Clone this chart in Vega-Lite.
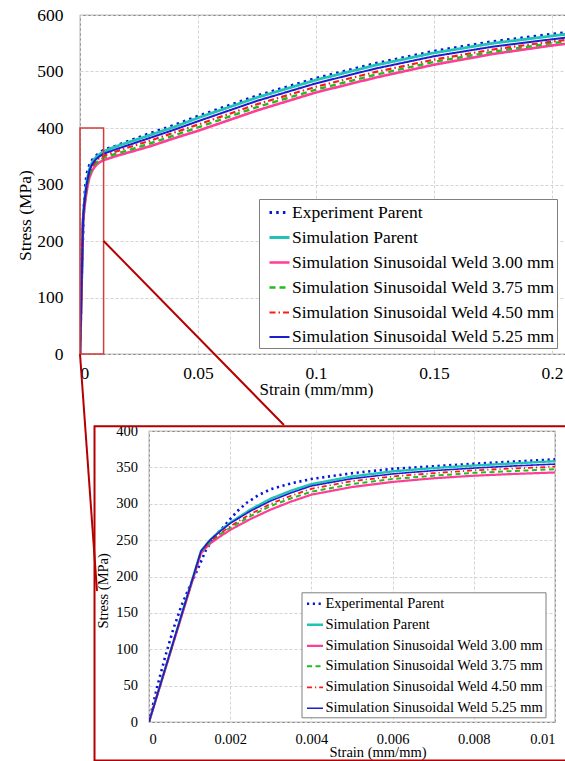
{
  "$schema": "https://vega.github.io/schema/vega-lite/v6.json",
  "padding": {"left": 15, "top": 5, "right": -2, "bottom": 0},
  "background": "white",
  "config": {
    "font": "Liberation Serif",
    "view": {"stroke": "#808080", "strokeWidth": 1.2},
    "axis": {"grid": true, "gridColor": "#d4d4d4", "gridDash": [3, 2], "gridWidth": 1, "ticks": false, "domain": false, "labelOverlap": false, "labelColor": "#000000", "titleColor": "#000000", "titleFontWeight": "normal", "labelFont": "Liberation Serif", "titleFont": "Liberation Serif"},
    "legend": {"labelFont": "Liberation Serif", "labelColor": "#000000", "symbolType": "stroke", "strokeColor": "#7f7f7f", "fillColor": "white", "cornerRadius": 0, "title": null, "labelLimit": 400}
  },
  "datasets": {
    "curves": [
      {"series": "Experiment Parent", "strain": 0, "stress": 0},
      {"series": "Experiment Parent", "strain": 0.0002, "stress": 48},
      {"series": "Experiment Parent", "strain": 0.0004, "stress": 90},
      {"series": "Experiment Parent", "strain": 0.0006, "stress": 128},
      {"series": "Experiment Parent", "strain": 0.0008, "stress": 160},
      {"series": "Experiment Parent", "strain": 0.001, "stress": 186},
      {"series": "Experiment Parent", "strain": 0.0012, "stress": 210},
      {"series": "Experiment Parent", "strain": 0.0014, "stress": 236},
      {"series": "Experiment Parent", "strain": 0.0016, "stress": 254},
      {"series": "Experiment Parent", "strain": 0.0018, "stress": 266},
      {"series": "Experiment Parent", "strain": 0.002, "stress": 279},
      {"series": "Experiment Parent", "strain": 0.0022, "stress": 291},
      {"series": "Experiment Parent", "strain": 0.0024, "stress": 301},
      {"series": "Experiment Parent", "strain": 0.0027, "stress": 312},
      {"series": "Experiment Parent", "strain": 0.003, "stress": 320},
      {"series": "Experiment Parent", "strain": 0.0035, "stress": 328},
      {"series": "Experiment Parent", "strain": 0.004, "stress": 334},
      {"series": "Experiment Parent", "strain": 0.005, "stress": 342},
      {"series": "Experiment Parent", "strain": 0.006, "stress": 348},
      {"series": "Experiment Parent", "strain": 0.007, "stress": 351.5},
      {"series": "Experiment Parent", "strain": 0.008, "stress": 355},
      {"series": "Experiment Parent", "strain": 0.009, "stress": 358},
      {"series": "Experiment Parent", "strain": 0.01, "stress": 361},
      {"series": "Experiment Parent", "strain": 0.015, "stress": 368},
      {"series": "Experiment Parent", "strain": 0.02, "stress": 376},
      {"series": "Experiment Parent", "strain": 0.03, "stress": 391},
      {"series": "Experiment Parent", "strain": 0.04, "stress": 405},
      {"series": "Experiment Parent", "strain": 0.05, "stress": 421},
      {"series": "Experiment Parent", "strain": 0.075, "stress": 457},
      {"series": "Experiment Parent", "strain": 0.1, "stress": 488},
      {"series": "Experiment Parent", "strain": 0.125, "stress": 514},
      {"series": "Experiment Parent", "strain": 0.15, "stress": 536},
      {"series": "Experiment Parent", "strain": 0.175, "stress": 553},
      {"series": "Experiment Parent", "strain": 0.2, "stress": 566},
      {"series": "Experiment Parent", "strain": 0.21, "stress": 571},

      {"series": "Simulation Parent", "strain": 0, "stress": 0},
      {"series": "Simulation Parent", "strain": 0.00128, "stress": 235},
      {"series": "Simulation Parent", "strain": 0.0015, "stress": 250},
      {"series": "Simulation Parent", "strain": 0.00175, "stress": 263},
      {"series": "Simulation Parent", "strain": 0.002, "stress": 274},
      {"series": "Simulation Parent", "strain": 0.0025, "stress": 292},
      {"series": "Simulation Parent", "strain": 0.003, "stress": 307},
      {"series": "Simulation Parent", "strain": 0.0035, "stress": 318},
      {"series": "Simulation Parent", "strain": 0.004, "stress": 327},
      {"series": "Simulation Parent", "strain": 0.005, "stress": 337.5},
      {"series": "Simulation Parent", "strain": 0.006, "stress": 344.5},
      {"series": "Simulation Parent", "strain": 0.007, "stress": 349},
      {"series": "Simulation Parent", "strain": 0.008, "stress": 352.5},
      {"series": "Simulation Parent", "strain": 0.009, "stress": 355.5},
      {"series": "Simulation Parent", "strain": 0.01, "stress": 358.5},
      {"series": "Simulation Parent", "strain": 0.015, "stress": 367},
      {"series": "Simulation Parent", "strain": 0.02, "stress": 374},
      {"series": "Simulation Parent", "strain": 0.03, "stress": 388},
      {"series": "Simulation Parent", "strain": 0.04, "stress": 402},
      {"series": "Simulation Parent", "strain": 0.05, "stress": 418},
      {"series": "Simulation Parent", "strain": 0.075, "stress": 454},
      {"series": "Simulation Parent", "strain": 0.1, "stress": 485},
      {"series": "Simulation Parent", "strain": 0.125, "stress": 511},
      {"series": "Simulation Parent", "strain": 0.15, "stress": 533},
      {"series": "Simulation Parent", "strain": 0.175, "stress": 550},
      {"series": "Simulation Parent", "strain": 0.2, "stress": 563},
      {"series": "Simulation Parent", "strain": 0.21, "stress": 568},

      {"series": "Simulation Sinusoidal Weld 3.00 mm", "strain": 0, "stress": 0},
      {"series": "Simulation Sinusoidal Weld 3.00 mm", "strain": 0.00128, "stress": 232},
      {"series": "Simulation Sinusoidal Weld 3.00 mm", "strain": 0.0015, "stress": 245},
      {"series": "Simulation Sinusoidal Weld 3.00 mm", "strain": 0.00175, "stress": 255},
      {"series": "Simulation Sinusoidal Weld 3.00 mm", "strain": 0.002, "stress": 264},
      {"series": "Simulation Sinusoidal Weld 3.00 mm", "strain": 0.0025, "stress": 279},
      {"series": "Simulation Sinusoidal Weld 3.00 mm", "strain": 0.003, "stress": 292},
      {"series": "Simulation Sinusoidal Weld 3.00 mm", "strain": 0.0035, "stress": 303},
      {"series": "Simulation Sinusoidal Weld 3.00 mm", "strain": 0.004, "stress": 312.5},
      {"series": "Simulation Sinusoidal Weld 3.00 mm", "strain": 0.005, "stress": 323},
      {"series": "Simulation Sinusoidal Weld 3.00 mm", "strain": 0.006, "stress": 330},
      {"series": "Simulation Sinusoidal Weld 3.00 mm", "strain": 0.007, "stress": 335},
      {"series": "Simulation Sinusoidal Weld 3.00 mm", "strain": 0.008, "stress": 338.5},
      {"series": "Simulation Sinusoidal Weld 3.00 mm", "strain": 0.009, "stress": 341},
      {"series": "Simulation Sinusoidal Weld 3.00 mm", "strain": 0.01, "stress": 343},
      {"series": "Simulation Sinusoidal Weld 3.00 mm", "strain": 0.015, "stress": 350},
      {"series": "Simulation Sinusoidal Weld 3.00 mm", "strain": 0.02, "stress": 356},
      {"series": "Simulation Sinusoidal Weld 3.00 mm", "strain": 0.03, "stress": 368},
      {"series": "Simulation Sinusoidal Weld 3.00 mm", "strain": 0.04, "stress": 382},
      {"series": "Simulation Sinusoidal Weld 3.00 mm", "strain": 0.05, "stress": 395},
      {"series": "Simulation Sinusoidal Weld 3.00 mm", "strain": 0.075, "stress": 431},
      {"series": "Simulation Sinusoidal Weld 3.00 mm", "strain": 0.1, "stress": 463},
      {"series": "Simulation Sinusoidal Weld 3.00 mm", "strain": 0.125, "stress": 489},
      {"series": "Simulation Sinusoidal Weld 3.00 mm", "strain": 0.15, "stress": 512},
      {"series": "Simulation Sinusoidal Weld 3.00 mm", "strain": 0.175, "stress": 531},
      {"series": "Simulation Sinusoidal Weld 3.00 mm", "strain": 0.2, "stress": 546},
      {"series": "Simulation Sinusoidal Weld 3.00 mm", "strain": 0.21, "stress": 551},

      {"series": "Simulation Sinusoidal Weld 3.75 mm", "strain": 0, "stress": 0},
      {"series": "Simulation Sinusoidal Weld 3.75 mm", "strain": 0.00128, "stress": 234},
      {"series": "Simulation Sinusoidal Weld 3.75 mm", "strain": 0.0015, "stress": 247},
      {"series": "Simulation Sinusoidal Weld 3.75 mm", "strain": 0.00175, "stress": 258},
      {"series": "Simulation Sinusoidal Weld 3.75 mm", "strain": 0.002, "stress": 267},
      {"series": "Simulation Sinusoidal Weld 3.75 mm", "strain": 0.0025, "stress": 283},
      {"series": "Simulation Sinusoidal Weld 3.75 mm", "strain": 0.003, "stress": 297},
      {"series": "Simulation Sinusoidal Weld 3.75 mm", "strain": 0.0035, "stress": 307.5},
      {"series": "Simulation Sinusoidal Weld 3.75 mm", "strain": 0.004, "stress": 316.5},
      {"series": "Simulation Sinusoidal Weld 3.75 mm", "strain": 0.005, "stress": 327},
      {"series": "Simulation Sinusoidal Weld 3.75 mm", "strain": 0.006, "stress": 334},
      {"series": "Simulation Sinusoidal Weld 3.75 mm", "strain": 0.007, "stress": 338.5},
      {"series": "Simulation Sinusoidal Weld 3.75 mm", "strain": 0.008, "stress": 342.5},
      {"series": "Simulation Sinusoidal Weld 3.75 mm", "strain": 0.009, "stress": 345},
      {"series": "Simulation Sinusoidal Weld 3.75 mm", "strain": 0.01, "stress": 347.5},
      {"series": "Simulation Sinusoidal Weld 3.75 mm", "strain": 0.015, "stress": 354},
      {"series": "Simulation Sinusoidal Weld 3.75 mm", "strain": 0.02, "stress": 360},
      {"series": "Simulation Sinusoidal Weld 3.75 mm", "strain": 0.03, "stress": 373},
      {"series": "Simulation Sinusoidal Weld 3.75 mm", "strain": 0.04, "stress": 387},
      {"series": "Simulation Sinusoidal Weld 3.75 mm", "strain": 0.05, "stress": 401},
      {"series": "Simulation Sinusoidal Weld 3.75 mm", "strain": 0.075, "stress": 437},
      {"series": "Simulation Sinusoidal Weld 3.75 mm", "strain": 0.1, "stress": 468},
      {"series": "Simulation Sinusoidal Weld 3.75 mm", "strain": 0.125, "stress": 494},
      {"series": "Simulation Sinusoidal Weld 3.75 mm", "strain": 0.15, "stress": 517},
      {"series": "Simulation Sinusoidal Weld 3.75 mm", "strain": 0.175, "stress": 535},
      {"series": "Simulation Sinusoidal Weld 3.75 mm", "strain": 0.2, "stress": 550},
      {"series": "Simulation Sinusoidal Weld 3.75 mm", "strain": 0.21, "stress": 555},

      {"series": "Simulation Sinusoidal Weld 4.50 mm", "strain": 0, "stress": 0},
      {"series": "Simulation Sinusoidal Weld 4.50 mm", "strain": 0.00128, "stress": 234},
      {"series": "Simulation Sinusoidal Weld 4.50 mm", "strain": 0.0015, "stress": 248},
      {"series": "Simulation Sinusoidal Weld 4.50 mm", "strain": 0.00175, "stress": 259},
      {"series": "Simulation Sinusoidal Weld 4.50 mm", "strain": 0.002, "stress": 269},
      {"series": "Simulation Sinusoidal Weld 4.50 mm", "strain": 0.0025, "stress": 286},
      {"series": "Simulation Sinusoidal Weld 4.50 mm", "strain": 0.003, "stress": 300},
      {"series": "Simulation Sinusoidal Weld 4.50 mm", "strain": 0.0035, "stress": 311},
      {"series": "Simulation Sinusoidal Weld 4.50 mm", "strain": 0.004, "stress": 320.5},
      {"series": "Simulation Sinusoidal Weld 4.50 mm", "strain": 0.005, "stress": 331},
      {"series": "Simulation Sinusoidal Weld 4.50 mm", "strain": 0.006, "stress": 337.5},
      {"series": "Simulation Sinusoidal Weld 4.50 mm", "strain": 0.007, "stress": 342},
      {"series": "Simulation Sinusoidal Weld 4.50 mm", "strain": 0.008, "stress": 346},
      {"series": "Simulation Sinusoidal Weld 4.50 mm", "strain": 0.009, "stress": 348.5},
      {"series": "Simulation Sinusoidal Weld 4.50 mm", "strain": 0.01, "stress": 351},
      {"series": "Simulation Sinusoidal Weld 4.50 mm", "strain": 0.015, "stress": 358},
      {"series": "Simulation Sinusoidal Weld 4.50 mm", "strain": 0.02, "stress": 365},
      {"series": "Simulation Sinusoidal Weld 4.50 mm", "strain": 0.03, "stress": 378},
      {"series": "Simulation Sinusoidal Weld 4.50 mm", "strain": 0.04, "stress": 392},
      {"series": "Simulation Sinusoidal Weld 4.50 mm", "strain": 0.05, "stress": 406},
      {"series": "Simulation Sinusoidal Weld 4.50 mm", "strain": 0.075, "stress": 442},
      {"series": "Simulation Sinusoidal Weld 4.50 mm", "strain": 0.1, "stress": 473},
      {"series": "Simulation Sinusoidal Weld 4.50 mm", "strain": 0.125, "stress": 499},
      {"series": "Simulation Sinusoidal Weld 4.50 mm", "strain": 0.15, "stress": 521},
      {"series": "Simulation Sinusoidal Weld 4.50 mm", "strain": 0.175, "stress": 539},
      {"series": "Simulation Sinusoidal Weld 4.50 mm", "strain": 0.2, "stress": 553},
      {"series": "Simulation Sinusoidal Weld 4.50 mm", "strain": 0.21, "stress": 558},

      {"series": "Simulation Sinusoidal Weld 5.25 mm", "strain": 0, "stress": 0},
      {"series": "Simulation Sinusoidal Weld 5.25 mm", "strain": 0.00128, "stress": 235},
      {"series": "Simulation Sinusoidal Weld 5.25 mm", "strain": 0.0015, "stress": 250},
      {"series": "Simulation Sinusoidal Weld 5.25 mm", "strain": 0.00175, "stress": 262},
      {"series": "Simulation Sinusoidal Weld 5.25 mm", "strain": 0.002, "stress": 273},
      {"series": "Simulation Sinusoidal Weld 5.25 mm", "strain": 0.0025, "stress": 290},
      {"series": "Simulation Sinusoidal Weld 5.25 mm", "strain": 0.003, "stress": 304},
      {"series": "Simulation Sinusoidal Weld 5.25 mm", "strain": 0.0035, "stress": 315},
      {"series": "Simulation Sinusoidal Weld 5.25 mm", "strain": 0.004, "stress": 324.5},
      {"series": "Simulation Sinusoidal Weld 5.25 mm", "strain": 0.005, "stress": 334.5},
      {"series": "Simulation Sinusoidal Weld 5.25 mm", "strain": 0.006, "stress": 341},
      {"series": "Simulation Sinusoidal Weld 5.25 mm", "strain": 0.007, "stress": 345.5},
      {"series": "Simulation Sinusoidal Weld 5.25 mm", "strain": 0.008, "stress": 349},
      {"series": "Simulation Sinusoidal Weld 5.25 mm", "strain": 0.009, "stress": 352},
      {"series": "Simulation Sinusoidal Weld 5.25 mm", "strain": 0.01, "stress": 354.5},
      {"series": "Simulation Sinusoidal Weld 5.25 mm", "strain": 0.015, "stress": 362},
      {"series": "Simulation Sinusoidal Weld 5.25 mm", "strain": 0.02, "stress": 369},
      {"series": "Simulation Sinusoidal Weld 5.25 mm", "strain": 0.03, "stress": 383},
      {"series": "Simulation Sinusoidal Weld 5.25 mm", "strain": 0.04, "stress": 397},
      {"series": "Simulation Sinusoidal Weld 5.25 mm", "strain": 0.05, "stress": 412},
      {"series": "Simulation Sinusoidal Weld 5.25 mm", "strain": 0.075, "stress": 448},
      {"series": "Simulation Sinusoidal Weld 5.25 mm", "strain": 0.1, "stress": 479},
      {"series": "Simulation Sinusoidal Weld 5.25 mm", "strain": 0.125, "stress": 505},
      {"series": "Simulation Sinusoidal Weld 5.25 mm", "strain": 0.15, "stress": 527},
      {"series": "Simulation Sinusoidal Weld 5.25 mm", "strain": 0.175, "stress": 544},
      {"series": "Simulation Sinusoidal Weld 5.25 mm", "strain": 0.2, "stress": 557},
      {"series": "Simulation Sinusoidal Weld 5.25 mm", "strain": 0.21, "stress": 562}
    ]
  },
  "bounds": "flush",
  "spacing": 77,
  "resolve": {
    "scale": {"x": "independent", "y": "independent", "color": "independent", "strokeDash": "independent", "strokeWidth": "independent"},
    "legend": {"color": "independent", "strokeDash": "independent"}
  },
  "vconcat": [
    {
      "width": 487,
      "height": 339,
      "layer": [
        {
          "data": {"name": "curves"},
          "mark": {"type": "line", "clip": true},
          "encoding": {
            "x": {"field": "strain", "type": "quantitative", "scale": {"domain": [0, 0.20636], "nice": false, "zero": false},
                  "axis": {"values": [0, 0.05, 0.1, 0.15, 0.2], "tickCount": 20, "labelOverlap": false, "format": "~g", "labelFontSize": 17.5, "labelPadding": 10, "title": "Strain (mm/mm)", "titleFontSize": 17, "titleX": 236, "titleY": 35, "titleBaseline": "middle"}},
            "y": {"field": "stress", "type": "quantitative", "scale": {"domain": [0, 600], "nice": false, "zero": false},
                  "axis": {"values": [0, 100, 200, 300, 400, 500, 600], "tickCount": 20, "labelOverlap": false, "labelFontSize": 17.5, "labelPadding": 17, "title": "Stress (MPa)", "titleFontSize": 17.5, "titleX": -55, "titleY": 200, "titleBaseline": "middle"}},
            "color": {"field": "series", "type": "nominal",
                      "scale": {"domain": ["Experiment Parent", "Simulation Parent", "Simulation Sinusoidal Weld 3.00 mm", "Simulation Sinusoidal Weld 3.75 mm", "Simulation Sinusoidal Weld 4.50 mm", "Simulation Sinusoidal Weld 5.25 mm"],
                                "range": ["#0a14d8", "#1fc4b4", "#ff3c96", "#22bb22", "#ff1a1a", "#1c1cd0"]},
                      "legend": {"orient": "none", "legendX": 179, "legendY": 184, "padding": 2, "symbolSize": 400, "symbolStrokeWidth": 2, "symbolOffset": 7, "labelOffset": 1, "rowPadding": 5, "labelFontSize": 17.5}},
            "strokeDash": {"field": "series", "type": "nominal",
                      "scale": {"domain": ["Experiment Parent", "Simulation Parent", "Simulation Sinusoidal Weld 3.00 mm", "Simulation Sinusoidal Weld 3.75 mm", "Simulation Sinusoidal Weld 4.50 mm", "Simulation Sinusoidal Weld 5.25 mm"],
                                "range": [[2.5, 4.2], [1, 0], [1, 0], [6, 4], [6, 3, 1.5, 3], [1, 0]]},
                      "legend": {"orient": "none", "legendX": 179, "legendY": 184, "padding": 2, "symbolSize": 400, "symbolStrokeWidth": 2, "symbolOffset": 7, "labelOffset": 1, "rowPadding": 5, "labelFontSize": 17.5}},
            "strokeWidth": {"field": "series", "type": "nominal",
                      "scale": {"domain": ["Experiment Parent", "Simulation Parent", "Simulation Sinusoidal Weld 3.00 mm", "Simulation Sinusoidal Weld 3.75 mm", "Simulation Sinusoidal Weld 4.50 mm", "Simulation Sinusoidal Weld 5.25 mm"],
                                "range": [3, 2, 2, 2.2, 1.8, 2]}, "legend": null}
          }
        },
        {
          "data": {"values": [{"strain": 0, "strain2": 0.01, "stress": 0, "stress2": 400}]},
          "mark": {"type": "rect", "fillOpacity": 0, "stroke": "#d23c3c", "strokeWidth": 1.5},
          "encoding": {
            "x": {"field": "strain", "type": "quantitative", "axis": {"values": [0, 0.05, 0.1, 0.15, 0.2], "tickCount": 20, "labelOverlap": false, "format": "~g", "labelFontSize": 17.5, "labelPadding": 10, "title": "Strain (mm/mm)", "titleFontSize": 17, "titleX": 236, "titleY": 35, "titleBaseline": "middle"}},
            "x2": {"field": "strain2"},
            "y": {"field": "stress", "type": "quantitative", "axis": {"values": [0, 100, 200, 300, 400, 500, 600], "tickCount": 20, "labelOverlap": false, "labelFontSize": 17.5, "labelPadding": 17, "title": "Stress (MPa)", "titleFontSize": 17.5, "titleX": -55, "titleY": 200, "titleBaseline": "middle"}},
            "y2": {"field": "stress2"}
          }
        },
        {
          "data": {"values": [
            {"strain": 0.01, "stress": 200, "strain2": 0.0864, "stress2": -125.7},
            {"strain": 0, "stress": 0, "strain2": 0.0072, "stress2": -419.5}
          ]},
          "mark": {"type": "rule", "stroke": "#b40000", "strokeWidth": 2},
          "encoding": {
            "x": {"field": "strain", "type": "quantitative", "axis": {"values": [0, 0.05, 0.1, 0.15, 0.2], "tickCount": 20, "labelOverlap": false, "format": "~g", "labelFontSize": 17.5, "labelPadding": 10, "title": "Strain (mm/mm)", "titleFontSize": 17, "titleX": 236, "titleY": 35, "titleBaseline": "middle"}},
            "x2": {"field": "strain2"},
            "y": {"field": "stress", "type": "quantitative", "axis": {"values": [0, 100, 200, 300, 400, 500, 600], "tickCount": 20, "labelOverlap": false, "labelFontSize": 17.5, "labelPadding": 17, "title": "Stress (MPa)", "titleFontSize": 17.5, "titleX": -55, "titleY": 200, "titleBaseline": "middle"}},
            "y2": {"field": "stress2"}
          }
        }
      ]
    },
    {
      "spacing": 0,
      "hconcat": [
        {
          "width": 12,
          "height": 10,
          "view": {"stroke": null},
          "data": {"values": [{"k": 1}]},
          "mark": {"type": "point", "opacity": 0}
        },
        {
          "width": 406,
          "height": 291,
          "layer": [
            {
              "data": {"name": "curves"},
              "mark": {"type": "line", "clip": true},
              "encoding": {
                "x": {"field": "strain", "type": "quantitative", "scale": {"domain": [0, 0.01], "nice": false, "zero": false},
                      "axis": {"values": [0, 0.002, 0.004, 0.006, 0.008, 0.01], "tickCount": 20, "labelOverlap": false, "format": "~g", "labelFontSize": 14.5, "labelPadding": 10, "title": "Strain (mm/mm)", "titleFontSize": 14.5, "titleX": 228.5, "titleY": 30, "titleBaseline": "middle"}},
                "y": {"field": "stress", "type": "quantitative", "scale": {"domain": [0, 400], "nice": false, "zero": false},
                      "axis": {"values": [0, 50, 100, 150, 200, 250, 300, 350, 400], "tickCount": 20, "labelOverlap": false, "labelFontSize": 14.5, "labelPadding": 11.5, "title": "Stress (MPa)", "titleFontSize": 14.5, "titleX": -46, "titleY": 159.3, "titleBaseline": "middle"}},
                "color": {"field": "series", "type": "nominal",
                          "scale": {"domain": ["Experiment Parent", "Simulation Parent", "Simulation Sinusoidal Weld 3.00 mm", "Simulation Sinusoidal Weld 3.75 mm", "Simulation Sinusoidal Weld 4.50 mm", "Simulation Sinusoidal Weld 5.25 mm"],
                                    "range": ["#0a14d8", "#1fc4b4", "#ff3c96", "#22bb22", "#ff1a1a", "#1c1cd0"]},
                          "legend": {"orient": "none", "legendX": 221.5, "legendY": 161.3, "padding": 2, "symbolSize": 256, "symbolStrokeWidth": 1.6, "symbolOffset": 2, "labelOffset": 1, "rowPadding": 5, "labelFontSize": 14.5, "labelExpr": "datum.label == 'Experiment Parent' ? 'Experimental Parent' : datum.label"}},
                "strokeDash": {"field": "series", "type": "nominal",
                          "scale": {"domain": ["Experiment Parent", "Simulation Parent", "Simulation Sinusoidal Weld 3.00 mm", "Simulation Sinusoidal Weld 3.75 mm", "Simulation Sinusoidal Weld 4.50 mm", "Simulation Sinusoidal Weld 5.25 mm"],
                                    "range": [[2.2, 3.6], [1, 0], [1, 0], [5, 3.5], [5, 3, 1.2, 3], [1, 0]]},
                          "legend": {"orient": "none", "legendX": 221.5, "legendY": 161.3, "padding": 2, "symbolSize": 256, "symbolStrokeWidth": 1.6, "symbolOffset": 2, "labelOffset": 1, "rowPadding": 5, "labelFontSize": 14.5, "labelExpr": "datum.label == 'Experiment Parent' ? 'Experimental Parent' : datum.label"}},
                "strokeWidth": {"field": "series", "type": "nominal",
                          "scale": {"domain": ["Experiment Parent", "Simulation Parent", "Simulation Sinusoidal Weld 3.00 mm", "Simulation Sinusoidal Weld 3.75 mm", "Simulation Sinusoidal Weld 4.50 mm", "Simulation Sinusoidal Weld 5.25 mm"],
                                    "range": [2.6, 1.6, 1.6, 1.8, 1.6, 1.6]}, "legend": null}
              }
            },
            {
              "data": {"values": [{"strain": -0.001342, "strain2": 0.0103, "stress": -53, "stress2": 406.5}]},
              "mark": {"type": "rect", "fillOpacity": 0, "stroke": "#b40000", "strokeWidth": 2},
              "encoding": {
                "x": {"field": "strain", "type": "quantitative", "axis": {"values": [0, 0.002, 0.004, 0.006, 0.008, 0.01], "tickCount": 20, "labelOverlap": false, "format": "~g", "labelFontSize": 14.5, "labelPadding": 10, "title": "Strain (mm/mm)", "titleFontSize": 14.5, "titleX": 228.5, "titleY": 30, "titleBaseline": "middle"}},
                "x2": {"field": "strain2"},
                "y": {"field": "stress", "type": "quantitative", "axis": {"values": [0, 50, 100, 150, 200, 250, 300, 350, 400], "tickCount": 20, "labelOverlap": false, "labelFontSize": 14.5, "labelPadding": 11.5, "title": "Stress (MPa)", "titleFontSize": 14.5, "titleX": -46, "titleY": 159.3, "titleBaseline": "middle"}},
                "y2": {"field": "stress2"}
              }
            }
          ]
        }
      ]
    }
  ]
}
